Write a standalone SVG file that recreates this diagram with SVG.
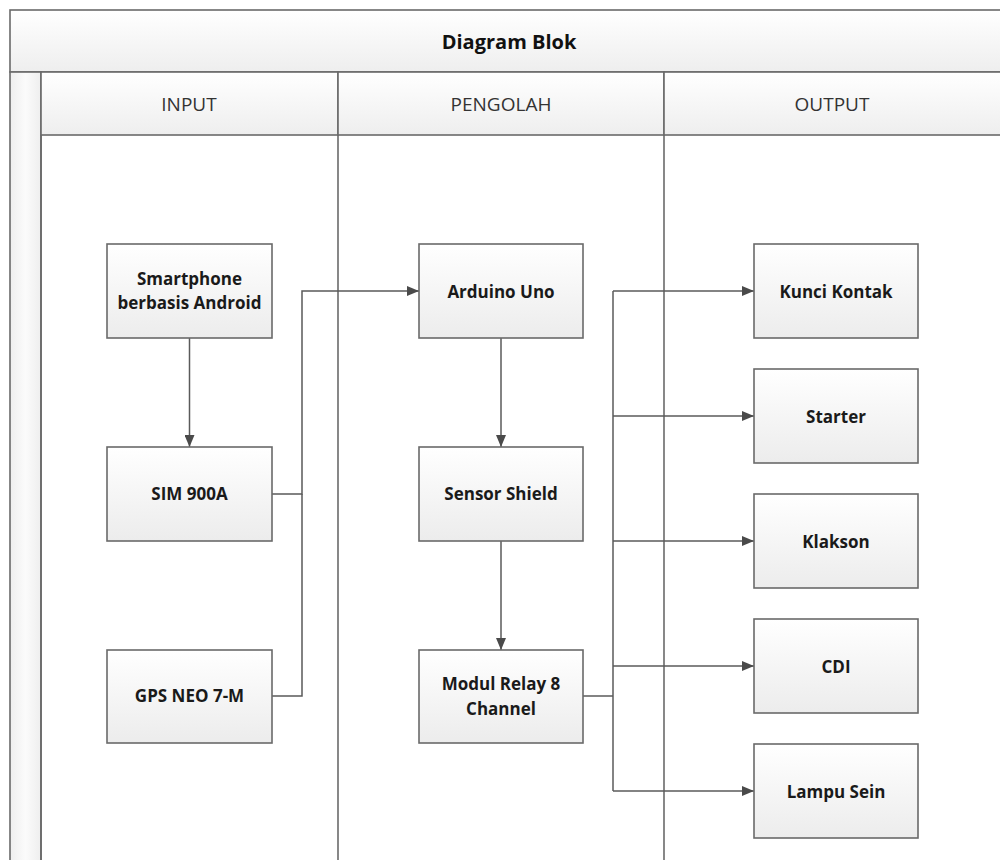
<svg xmlns="http://www.w3.org/2000/svg" width="1000" height="860" viewBox="0 0 1000 860">
<style>
.frame{fill:none;stroke:#6a6a6a;stroke-width:1.6}
.hdr{fill:url(#hg);stroke:#6a6a6a;stroke-width:1.6}
.box{fill:url(#bg);stroke:#6a6a6a;stroke-width:1.6}
.lbl{font-family:"Open Sans","Liberation Sans",sans-serif;font-weight:bold;font-size:17px;fill:#1a1a1a;text-anchor:middle}
.lane{font-family:"Open Sans","Liberation Sans",sans-serif;font-size:19px;fill:#333;text-anchor:middle}
.title{font-family:"Open Sans","Liberation Sans",sans-serif;font-weight:bold;font-size:20px;fill:#111;text-anchor:middle}
.wire{fill:none;stroke:#5a5a5a;stroke-width:1.5}
</style>
<defs>
<linearGradient id="hg" x1="0" y1="0" x2="0" y2="1"><stop offset="0" stop-color="#ffffff"/><stop offset="1" stop-color="#eeeeee"/></linearGradient>
<linearGradient id="sg" x1="0" y1="0" x2="1" y2="0"><stop offset="0" stop-color="#eeeeee"/><stop offset="0.5" stop-color="#fbfbfb"/><stop offset="1" stop-color="#eeeeee"/></linearGradient>
<linearGradient id="bg" x1="0" y1="0" x2="0" y2="1"><stop offset="0" stop-color="#ffffff"/><stop offset="1" stop-color="#ececec"/></linearGradient>
<marker id="ah" markerWidth="12" markerHeight="10" refX="12" refY="5" orient="auto" markerUnits="userSpaceOnUse"><path d="M0,0 L12,5 L0,10 Z" fill="#4a4a4a"/></marker>
</defs>
<rect width="1000" height="860" fill="#ffffff"/>
<g id="pool">
<rect class="hdr" x="10" y="10" width="1000" height="62"/>
<text class="title" x="509" y="49">Diagram Blok</text>
<rect x="10" y="72" width="31" height="800" fill="url(#sg)" stroke="#6a6a6a" stroke-width="1.6"/>
</g>
<g id="lane-input">
<rect class="hdr" x="41" y="72" width="297" height="63"/>
<text class="lane" x="189" y="111">INPUT</text>
<line class="frame" x1="41" y1="135" x2="41" y2="870"/>
</g>
<g id="lane-pengolah">
<rect class="hdr" x="338" y="72" width="326" height="63"/>
<text class="lane" x="501" y="111">PENGOLAH</text>
<line class="frame" x1="338" y1="135" x2="338" y2="870"/>
</g>
<g id="lane-output">
<rect class="hdr" x="664" y="72" width="350" height="63"/>
<text class="lane" x="832" y="111">OUTPUT</text>
<line class="frame" x1="664" y1="135" x2="664" y2="870"/>
</g>
<g id="connectors">
<line class="wire" x1="189.5" y1="338" x2="189.5" y2="447" marker-end="url(#ah)"/>
<polyline class="wire" points="272,494 302,494 302,291 419,291" marker-end="url(#ah)"/>
<polyline class="wire" points="272,696 302,696 302,494"/>
<line class="wire" x1="501" y1="338" x2="501" y2="447" marker-end="url(#ah)"/>
<line class="wire" x1="501" y1="541" x2="501" y2="650" marker-end="url(#ah)"/>
<polyline class="wire" points="583,696 613,696"/>
<line class="wire" x1="613" y1="291" x2="613" y2="791"/>
<line class="wire" x1="613" y1="291" x2="754" y2="291" marker-end="url(#ah)"/>
<line class="wire" x1="613" y1="416" x2="754" y2="416" marker-end="url(#ah)"/>
<line class="wire" x1="613" y1="541" x2="754" y2="541" marker-end="url(#ah)"/>
<line class="wire" x1="613" y1="666" x2="754" y2="666" marker-end="url(#ah)"/>
<line class="wire" x1="613" y1="791" x2="754" y2="791" marker-end="url(#ah)"/>
</g>
<g id="smartphone"><rect class="box" x="107" y="244" width="165" height="94"/><text class="lbl" x="189.5" y="285">Smartphone</text><text class="lbl" x="189.5" y="309">berbasis Android</text></g>
<g id="sim900a"><rect class="box" x="107" y="447" width="165" height="94"/><text class="lbl" x="189.5" y="500">SIM 900A</text></g>
<g id="gps"><rect class="box" x="107" y="650" width="165" height="93"/><text class="lbl" x="189.5" y="702">GPS NEO 7-M</text></g>
<g id="arduino"><rect class="box" x="419" y="244" width="164" height="94"/><text class="lbl" x="501" y="298">Arduino Uno</text></g>
<g id="sensorshield"><rect class="box" x="419" y="447" width="164" height="94"/><text class="lbl" x="501" y="500">Sensor Shield</text></g>
<g id="relay"><rect class="box" x="419" y="650" width="164" height="93"/><text class="lbl" x="501" y="690">Modul Relay 8</text><text class="lbl" x="501" y="715">Channel</text></g>
<g id="kuncikontak"><rect class="box" x="754" y="244" width="164" height="94"/><text class="lbl" x="836" y="298">Kunci Kontak</text></g>
<g id="starter"><rect class="box" x="754" y="369" width="164" height="94"/><text class="lbl" x="836" y="423">Starter</text></g>
<g id="klakson"><rect class="box" x="754" y="494" width="164" height="94"/><text class="lbl" x="836" y="548">Klakson</text></g>
<g id="cdi"><rect class="box" x="754" y="619" width="164" height="94"/><text class="lbl" x="836" y="673">CDI</text></g>
<g id="lampusein"><rect class="box" x="754" y="744" width="164" height="94"/><text class="lbl" x="836" y="798">Lampu Sein</text></g>
</svg>
